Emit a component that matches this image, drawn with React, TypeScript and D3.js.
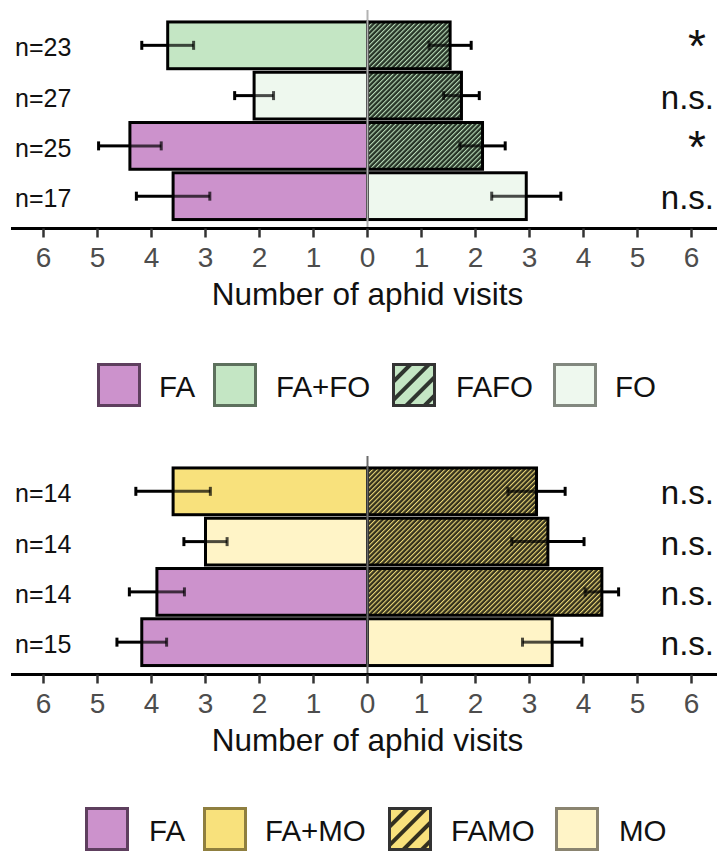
import React from "react";
import * as d3 from "d3";

// ---------- DATA ----------
const topN = ["n=23", "n=27", "n=25", "n=17"];
const topLeftCat = ["FA+FO", "FO", "FA", "FA"];
const topLeftMean = [3.70, 2.10, 4.40, 3.60];
const topLeftSE = [0.48, 0.36, 0.58, 0.68];
const topRightCat = ["FAFO", "FAFO", "FAFO", "FO"];
const topRightMean = [1.53, 1.74, 2.13, 2.94];
const topRightSE = [0.39, 0.33, 0.42, 0.64];
const topSig = ["*", "n.s.", "*", "n.s."];

const botN = ["n=14", "n=14", "n=14", "n=15"];
const botLeftCat = ["FA+MO", "MO", "FA", "FA"];
const botLeftMean = [3.60, 3.00, 3.90, 4.18];
const botLeftSE = [0.69, 0.40, 0.51, 0.46];
const botRightCat = ["FAMO", "FAMO", "FAMO", "MO"];
const botRightMean = [3.13, 3.34, 4.34, 3.42];
const botRightSE = [0.53, 0.67, 0.31, 0.55];
const botSig = ["n.s.", "n.s.", "n.s.", "n.s."];

const tickValues = [-6, -5, -4, -3, -2, -1, 0, 1, 2, 3, 4, 5, 6];
const axisTitle = "Number of aphid visits";

const topLegend = ["FA", "FA+FO", "FAFO", "FO"];
const botLegend = ["FA", "FA+MO", "FAMO", "MO"];

// ---------- STYLE ----------
const FONT = "'Liberation Sans', Arial, Helvetica, sans-serif";
const fills: Record<string, string> = {
  FA: "#cc92cc",
  "FA+FO": "#c4e6c4",
  FO: "#eef8ee",
  FAFO: "url(#hatchG)",
  "FA+MO": "#f8e17c",
  MO: "#fff4c7",
  FAMO: "url(#hatchY)",
};
const legendFills: Record<string, string> = {
  ...fills,
  FAFO: "url(#legHatchG)",
  FAMO: "url(#legHatchY)",
};
const legendBorders: Record<string, string> = {
  FA: "#5e3f5e",
  "FA+FO": "#5d705d",
  FO: "#82887f",
  FAFO: "#333333",
  "FA+MO": "#8f7f3f",
  MO: "#8a8470",
  FAMO: "#333333",
};

const x = d3.scaleLinear().domain([-6, 6]).range([43.5, 691.5]);

type PanelProps = {
  offset: number;
  nLabels: string[];
  leftCat: string[];
  leftMean: number[];
  leftSE: number[];
  rightCat: string[];
  rightMean: number[];
  rightSE: number[];
  sig: string[];
  zeroColor: string;
};

function Panel(p: PanelProps) {
  const idx = d3.range(p.nLabels.length);
  const y = d3
    .scaleBand<number>()
    .domain(idx)
    .range([20.2 + p.offset, 221.3 + p.offset])
    .paddingInner(0.07)
    .paddingOuter(0.035);
  const bw = y.bandwidth();
  const axisY = 228.5 + p.offset;
  const x0 = x(0);

  const errBar = (mean: number, se: number, sign: number, key: string, cy: number) => {
    const end = x(sign * mean);
    const outer = x(sign * (mean + se));
    const inner = x(sign * (mean - se));
    return (
      <g key={key}>
        <line x1={end} x2={outer} y1={cy} y2={cy} stroke="#000" strokeWidth={3} />
        <line x1={inner} x2={end} y1={cy} y2={cy} stroke="#000" strokeOpacity={0.7} strokeWidth={3} />
        <line x1={outer} x2={outer} y1={cy - 4.5} y2={cy + 4.5} stroke="#000" strokeWidth={3} />
        <line x1={inner} x2={inner} y1={cy - 4.5} y2={cy + 4.5} stroke="#000" strokeOpacity={0.7} strokeWidth={3} />
      </g>
    );
  };

  return (
    <g>
      {idx.map((i) => {
        const yy = y(i)!;
        return (
          <g key={"bars" + i}>
            <rect
              x={x(-p.leftMean[i])}
              y={yy}
              width={x0 - x(-p.leftMean[i])}
              height={bw}
              fill={fills[p.leftCat[i]]}
              stroke="#000"
              strokeWidth={3}
            />
            <rect
              x={x0}
              y={yy}
              width={x(p.rightMean[i]) - x0}
              height={bw}
              fill={fills[p.rightCat[i]]}
              stroke="#000"
              strokeWidth={3}
            />
          </g>
        );
      })}
      {idx.map((i) => {
        const cy = y(i)! + bw / 2;
        return (
          <g key={"err" + i}>
            {errBar(p.leftMean[i], p.leftSE[i], -1, "l" + i, cy)}
            {errBar(p.rightMean[i], p.rightSE[i], 1, "r" + i, cy)}
          </g>
        );
      })}
      <line x1={x0} x2={x0} y1={10 + p.offset} y2={axisY} stroke={p.zeroColor} strokeWidth={2} />
      {idx.map((i) => {
        const cy = y(i)! + bw / 2;
        return (
          <text key={"n" + i} x={15} y={cy + 11} fontFamily={FONT} fontSize={25} fill="#111">
            {p.nLabels[i]}
          </text>
        );
      })}
      {idx.map((i) => {
        const cy = y(i)! + bw / 2;
        const s = p.sig[i];
        return s === "*" ? (
          <text key={"s" + i} x={697} y={cy + 17} textAnchor="middle" fontFamily={FONT} fontSize={46} fill="#111">
            *
          </text>
        ) : (
          <text key={"s" + i} x={714} y={cy + 13} textAnchor="end" fontFamily={FONT} fontSize={33} fill="#111">
            {s}
          </text>
        );
      })}
      <line x1={11} x2={717} y1={axisY} y2={axisY} stroke="#000" strokeWidth={3} />
      {tickValues.map((t) => (
        <g key={"t" + t}>
          <line x1={x(t)} x2={x(t)} y1={axisY} y2={axisY + 9} stroke="#333" strokeWidth={2.5} />
          <text
            x={x(t)}
            y={axisY + 38.5}
            textAnchor="middle"
            fontFamily={FONT}
            fontSize={28}
            fill="#4d4d4d"
          >
            {Math.abs(t)}
          </text>
        </g>
      ))}
      <text x={x0} y={305 + p.offset} textAnchor="middle" fontFamily={FONT} fontSize={31.5} fill="#111">
        {axisTitle}
      </text>
    </g>
  );
}

function Legend({ items, sqX, txX, cy }: { items: string[]; sqX: number[]; txX: number[]; cy: number }) {
  const s = 44;
  return (
    <g>
      {items.map((k, i) => (
        <g key={k}>
          <rect
            x={sqX[i] + 1.5}
            y={cy - s / 2 + 1.5}
            width={s - 3}
            height={s - 3}
            fill={legendFills[k]}
            stroke={legendBorders[k]}
            strokeWidth={3}
          />
          <text x={txX[i]} y={cy + 11.5} fontFamily={FONT} fontSize={29.5} fill="#111">
            {k}
          </text>
        </g>
      ))}
    </g>
  );
}

export default function App() {
  return (
    <div style={{ position: "absolute", left: 0, top: 0 }}>
      <svg width={717} height={851} style={{ display: "block", background: "#fff" }}>
        <defs>
          <pattern id="hatchG" patternUnits="userSpaceOnUse" width={3.4} height={3.4} patternTransform="rotate(45)">
            <rect width={3.4} height={3.4} fill="#263326" />
            <rect width={1.1} height={3.4} fill="#b9dcb9" />
          </pattern>
          <pattern id="hatchY" patternUnits="userSpaceOnUse" width={3.4} height={3.4} patternTransform="rotate(45)">
            <rect width={3.4} height={3.4} fill="#33301c" />
            <rect width={1.1} height={3.4} fill="#ecd878" />
          </pattern>
          <pattern id="legHatchG" patternUnits="userSpaceOnUse" width={13} height={13} patternTransform="rotate(45)">
            <rect width={13} height={13} fill="#c4e6c4" />
            <rect width={4} height={13} fill="#2e342e" />
          </pattern>
          <pattern id="legHatchY" patternUnits="userSpaceOnUse" width={13} height={13} patternTransform="rotate(45)">
            <rect width={13} height={13} fill="#f8e17c" />
            <rect width={4} height={13} fill="#33301e" />
          </pattern>
        </defs>
        <Panel
          offset={0}
          nLabels={topN}
          leftCat={topLeftCat}
          leftMean={topLeftMean}
          leftSE={topLeftSE}
          rightCat={topRightCat}
          rightMean={topRightMean}
          rightSE={topRightSE}
          sig={topSig}
          zeroColor="#b3b3b3"
        />
        <Panel
          offset={446}
          nLabels={botN}
          leftCat={botLeftCat}
          leftMean={botLeftMean}
          leftSE={botLeftSE}
          rightCat={botRightCat}
          rightMean={botRightMean}
          rightSE={botRightSE}
          sig={botSig}
          zeroColor="#6b6b6b"
        />
        <Legend items={topLegend} sqX={[97, 213, 392, 553]} txX={[159, 276, 456, 615]} cy={385} />
        <Legend items={botLegend} sqX={[85, 203, 388, 555]} txX={[149, 265, 451, 619]} cy={829} />
      </svg>
    </div>
  );
}
